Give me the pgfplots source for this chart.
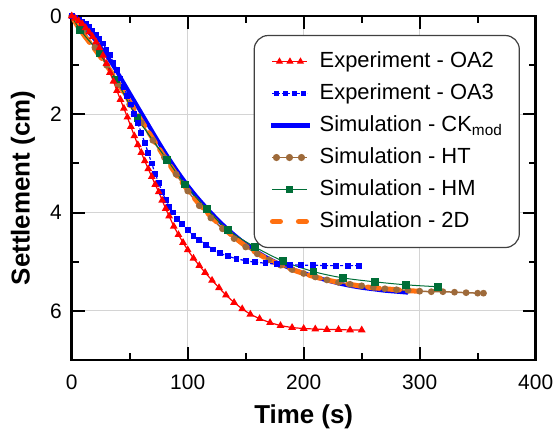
\documentclass[border=0pt]{standalone}
\usepackage{fontspec}
\setmainfont{Liberation Sans}
\usepackage{pgfplots}
\pgfplotsset{compat=1.18}
\definecolor{cred}{RGB}{255,0,0}
\definecolor{cblue}{RGB}{0,0,255}
\definecolor{cbrown}{RGB}{158,106,58}
\definecolor{cgreen}{RGB}{0,110,55}
\definecolor{corange}{RGB}{255,112,16}
\definecolor{cgrid}{RGB}{212,212,212}
\begin{document}
\begin{tikzpicture}
\begin{axis}[
  at={(0,0)}, anchor=south west,
  scale only axis, width=464bp, height=344bp,
  xmin=0, xmax=400, ymin=0, ymax=7, y dir=reverse,
  xtick={0,100,200,300,400}, minor xtick={50,150,250,350},
  ytick={0,2,4,6}, minor ytick={1,3,5},
  grid=major, major grid style={cgrid, line width=0.9bp},
  tick align=inside,
  major tick length=13bp, minor tick length=7bp,
  tick style={black, line width=2bp},
  minor tick style={black, line width=2bp},
  axis line style={black, line width=2.5bp},
  /pgf/number format/assume math mode=true,
  ticklabel style={font=\fontsize{21}{25}\selectfont},
  xticklabel style={yshift=-11bp},
  yticklabel style={xshift=-6.5bp},
  xlabel={Time (s)}, ylabel={Settlement (cm)},
  label style={font=\fontsize{26}{30}\selectfont\bfseries},
  xlabel style={at={(axis description cs:0.5,-0.1657)}, anchor=center},
  ylabel style={at={(axis description cs:-0.105,0.5)}, anchor=center, rotate=0},
  legend style={
    at={(axis description cs:0.966,0.945)}, anchor=north east,
    draw=black!75, line width=1.2bp, rounded corners=14bp, fill=white,
    font=\fontsize{22}{26}\selectfont,
    inner xsep=15bp, inner ysep=13bp,
    nodes={inner sep=2bp, text height=16.5bp, text depth=5.5bp},
    row sep=6bp, column sep=5bp,
  },
  legend cell align=left,
]
% legend entries (legend order)
\addlegendimage{cred, line width=1.2bp, mark=triangle*, mark size=3bp, mark options={sharp corners},
  legend image code/.code={
    \draw[sharp corners] (0bp,0bp) -- (35bp,0bp);
    \draw[sharp corners, only marks] plot coordinates {(7bp,0bp) (17.5bp,0bp) (28bp,0bp)};}}
\addlegendentry{Experiment - OA2}
\addlegendimage{cblue, line width=1.2bp, mark=square*, mark size=2bp,
  legend image code/.code={
    \draw[sharp corners, dash pattern=on 3bp off 2bp] (0bp,0bp) -- (35bp,0bp);
    \draw[sharp corners, only marks] plot coordinates {(4bp,0bp) (13bp,0bp) (22bp,0bp) (31bp,0bp)};}}
\addlegendentry{Experiment - OA3}
\addlegendimage{cblue, line width=4.5bp,
  legend image code/.code={
    \draw[sharp corners] (-1bp,0bp) -- (38bp,0bp);}}
\addlegendentry{Simulation - CK\textsubscript{mod}}
\addlegendimage{cbrown, line width=1.5bp, mark=*, mark size=2.8bp,
  legend image code/.code={
    \draw[sharp corners] (0bp,0bp) -- (35bp,0bp);
    \draw[sharp corners, only marks] plot coordinates {(4bp,0bp) (17bp,0bp) (29bp,0bp)};}}
\addlegendentry{Simulation - HT}
\addlegendimage{cgreen, line width=1bp, mark=square*, mark size=3bp,
  legend image code/.code={
    \draw[sharp corners] (0bp,0bp) -- (35bp,0bp);
    \draw[sharp corners, only marks] plot coordinates {(17bp,0bp)};}}
\addlegendentry{Simulation - HM}
\addlegendimage{corange, line width=5bp, line cap=round,
  legend image code/.code={
    \draw[sharp corners, dash pattern=on 8bp off 18bp] (0bp,0bp) -- (36bp,0bp);}}
\addlegendentry{Simulation - 2D}

% CK_mod
\addplot[cblue, line width=4bp, forget plot, smooth] coordinates {
(0,0) (10,0.2) (20,0.48) (30,0.8) (40,1.17) (50,1.57) (60,1.97) (70,2.37) (80,2.76)
(90,3.12) (100,3.45) (110,3.74) (120,4.0) (130,4.24) (140,4.45) (150,4.64) (160,4.8)
(170,4.94) (180,5.05) (190,5.15) (200,5.23) (210,5.31) (220,5.38) (230,5.44) (240,5.49)
(250,5.53) (260,5.56) (270,5.59) (280,5.61) (290,5.63)};
% HT
\addplot[cbrown, line width=1.5bp, mark=*, mark size=2.6bp, forget plot] coordinates {
(0,0) (10,0.3) (20,0.64) (30,1.0) (40,1.4) (50,1.8) (60,2.17) (70,2.53) (80,2.88) (90,3.22)
(100,3.56) (110,3.86) (120,4.11) (130,4.33) (140,4.53) (150,4.7) (160,4.84) (170,4.96)
(180,5.07) (190,5.16) (200,5.24) (210,5.31) (220,5.37) (230,5.42) (240,5.46) (250,5.49)
(260,5.52) (270,5.55) (280,5.57) (290,5.58) (300,5.6) (310,5.61) (320,5.61) (330,5.62)
(340,5.63) (350,5.64) (355,5.64)};
% 2D
\addplot[corange, line width=5bp, line cap=round, dash pattern=on 12bp off 8bp, forget plot, smooth] coordinates {
(0,0) (5,0.2) (10,0.37) (20,0.68) (30,1.0) (40,1.36) (50,1.75) (60,2.13) (70,2.5) (80,2.87)
(90,3.22) (100,3.54) (110,3.83) (120,4.08) (130,4.3) (140,4.5) (150,4.68) (160,4.83)
(170,4.96) (180,5.07) (190,5.16) (200,5.24) (210,5.31) (220,5.37) (230,5.42) (240,5.46)
(250,5.5) (260,5.53) (270,5.55) (280,5.57) (290,5.59) (300,5.6)};
% HM
\addplot[cgreen, line width=1bp, mark=square*, mark size=3.3bp, smooth, mark indices={2,3,...,16}, forget plot] coordinates {
(0,0) (7.2,0.28) (23.8,0.76) (38.2,1.29) (56.6,2.08) (82.4,2.93) (97.7,3.43) (116.4,3.93)
(135,4.36) (158,4.70) (182.4,4.99) (208.3,5.20) (234,5.33) (261.5,5.41) (288,5.47) (316,5.51)};
% OA3
\addplot[cblue, line width=1.2bp, dash pattern=on 3bp off 2bp, mark=square*, mark size=2.3bp, mark options={solid}, forget plot] coordinates {
(0,0) (3,0.03) (6,0.07) (9,0.12) (12,0.17) (15,0.23) (18,0.3) (21,0.38) (24,0.46) (27,0.56)
(30,0.68) (33,0.8) (36,0.95) (39,1.1) (42,1.27) (45,1.45) (48,1.62) (51,1.8) (54,1.99)
(57,2.18) (60,2.38) (63,2.58) (66,2.79) (69,3.0) (72,3.21) (75,3.4) (78,3.58) (81,3.74)
(84,3.88) (87,4.0) (91,4.13) (95,4.24) (100,4.36) (105,4.47) (110,4.56) (116,4.66)
(122,4.75) (128,4.83) (135,4.89) (142,4.94) (150,4.98) (158,5.01) (167,5.03) (177,5.05)
(188,5.06) (198,5.07) (208,5.07) (218,5.08) (228,5.08) (238,5.08) (248,5.08)};
% OA2
\addplot[cred, line width=1.2bp, mark=triangle*, mark size=3.3bp, forget plot] coordinates {
(0,0) (3,0.05) (6,0.1) (9,0.16) (12,0.24) (15,0.33) (18,0.42) (21,0.53) (24,0.65) (27,0.8)
(30,0.97) (33,1.15) (36,1.33) (39,1.52) (42,1.7) (45,1.88) (48,2.06) (51,2.25) (54,2.44)
(57,2.62) (60,2.78) (63,2.95) (66,3.11) (69,3.27) (72,3.43) (75,3.58) (78,3.75) (81,3.92)
(84,4.07) (88,4.28) (92,4.45) (96,4.61) (100,4.76) (105,4.93) (110,5.08) (115,5.22)
(121,5.38) (127,5.53) (133,5.68) (140,5.83) (147,5.96) (154,6.07) (162,6.16) (171,6.24)
(180,6.3) (190,6.34) (200,6.36) (210,6.37) (220,6.38) (230,6.38) (240,6.39) (250,6.39)};
\end{axis}
\pgfresetboundingbox
\path[use as bounding box] (-71.7bp,-69bp) rectangle (484.3bp,360bp);
\end{tikzpicture}
\end{document}
